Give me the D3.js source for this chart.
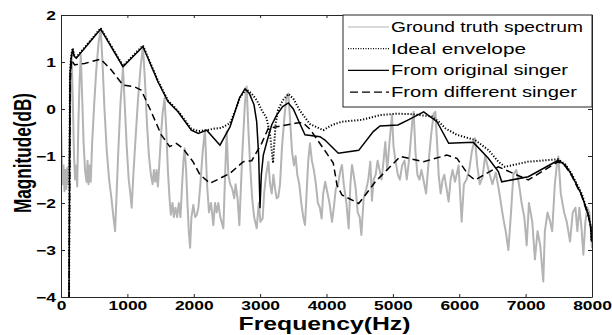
<!DOCTYPE html>
<html>
<head>
<meta charset="utf-8">
<script src="https://cdn.jsdelivr.net/npm/d3@7/dist/d3.min.js"></script>
<style>
  html, body { margin: 0; padding: 0; background: #fff; }
  svg { display: block; font-family: "Liberation Sans", Arial, Helvetica, sans-serif; }
</style>
</head>
<body>
<div id="chart"></div>
<script>
// axis ticks
const xTicks = [0, 1000, 2000, 3000, 4000, 5000, 6000, 7000, 8000];
const yTicks = [-4, -3, -2, -1, 0, 1, 2];

const legendLabels = ["Ground truth spectrum", "Ideal envelope", "From original singer", "From different singer"];

// [frequency (Hz), magnitude (dB)]
const truth = [
  [0,-0.2],[12,-1.1],[25,-1.6],[38,-1.2],[52,-1.75],[66,-1.3],[80,-1.7],[95,-1.25],[110,-1.6],[125,-0.9],
  [142,0.3],[160,1.2],[178,0.2],[196,-1.0],[212,-1.5],[228,-1.2],[244,-1.65],[262,-0.3],[280,0.6],[298,1.15],
  [318,0.3],[340,-0.7],[362,-1.3],[385,-1.55],[400,-1.1],[415,-1.6],[432,-1.2],[448,-1.55],[470,-0.7],[500,0.1],
  [530,0.8],[565,1.4],[598,1.7],[625,1.0],[655,0.0],[690,-0.9],[725,-1.5],[760,-1.9],[790,-2.3],[815,-2.6],
  [835,-1.9],[860,-1.0],[895,0.1],[934,0.87],[960,0.1],[990,-0.8],[1020,-1.5],[1045,-1.8],[1065,-2.1],[1090,-1.4],
  [1120,-0.7],[1160,0.2],[1200,0.9],[1235,1.33],[1265,0.6],[1295,-0.3],[1325,-1.0],[1355,-1.4],[1380,-1.6],[1400,-1.3],
  [1420,-1.55],[1440,-1.3],[1460,-1.65],[1480,-1.2],[1505,-0.6],[1530,-0.1],[1560,0.23],[1585,-0.4],[1610,-1.3],[1635,-1.9],
  [1655,-2.25],[1680,-2.0],[1700,-2.3],[1725,-2.1],[1750,-2.3],[1775,-2.0],[1800,-2.3],[1825,-1.6],[1845,-1.1],[1863,-0.84],
  [1885,-1.3],[1905,-2.0],[1925,-2.6],[1945,-2.95],[1965,-2.3],[1994,-2.04],[2020,-2.3],[2044,-2.26],[2070,-2.1],[2100,-1.6],
  [2135,-0.9],[2169,-0.45],[2200,-1.6],[2230,-2.2],[2260,-2.0],[2295,-2.47],[2320,-2.0],[2345,-2.2],[2370,-2.0],[2400,-2.3],
  [2446,-2.54],[2470,-1.5],[2496,-0.48],[2520,-1.4],[2550,-1.6],[2580,-1.7],[2610,-1.9],[2630,-1.6],[2660,-1.9],[2687,-2.47],
  [2730,-1.0],[2770,0.1],[2797,0.48],[2825,-0.5],[2850,-1.2],[2880,-1.9],[2910,-2.3],[2948,-2.54],[2980,-2.0],[3005,-2.4],
  [3038,-2.33],[3060,-1.8],[3090,-1.4],[3124,-1.12],[3150,-1.6],[3175,-1.8],[3200,-1.4],[3225,-1.7],[3250,-1.9],[3274,-1.87],
  [3300,-1.6],[3330,-0.8],[3370,-0.1],[3400,0.25],[3425,0.33],[3450,-0.2],[3480,-0.9],[3510,-1.2],[3535,-1.0],[3560,-1.4],
  [3590,-1.6],[3620,-2.0],[3650,-2.3],[3676,-2.47],[3700,-1.8],[3725,-1.1],[3751,-0.73],[3780,-1.1],[3810,-1.3],[3840,-1.6],
  [3870,-2.0],[3900,-2.1],[3927,-2.33],[3950,-1.8],[3980,-1.55],[4010,-1.75],[4045,-2.0],[4083,-2.4],[4110,-2.1],[4140,-1.7],
  [4175,-1.6],[4210,-1.3],[4233,-1.19],[4260,-1.6],[4300,-2.0],[4334,-2.54],[4360,-1.6],[4384,-1.19],[4410,-1.4],[4440,-1.7],
  [4470,-2.2],[4500,-2.3],[4525,-2.68],[4560,-1.9],[4600,-1.7],[4630,-1.5],[4660,-1.12],[4685,-1.95],[4710,-1.5],[4740,-1.4],
  [4770,-1.1],[4800,-1.3],[4830,-1.5],[4860,-1.1],[4886,-0.7],[4915,-1.3],[4950,-0.7],[4987,-0.13],[5010,-0.8],[5040,-1.1],
  [5075,-1.4],[5105,-1.5],[5140,-1.2],[5175,-1.1],[5210,-1.5],[5250,-1.0],[5290,-0.3],[5313,-0.06],[5340,-0.9],[5370,-1.4],
  [5400,-1.5],[5430,-1.3],[5460,-1.5],[5500,-1.8],[5540,-1.1],[5580,-0.5],[5615,-0.1],[5640,-0.06],[5665,-0.7],[5690,-1.4],
  [5720,-1.8],[5750,-1.5],[5775,-1.4],[5810,-1.7],[5840,-1.97],[5870,-1.5],[5900,-1.3],[5936,-1.55],[5960,-1.4],[5990,-1.2],
  [6036,-2.4],[6070,-1.6],[6110,-1.5],[6150,-1.3],[6190,-0.9],[6237,-0.62],[6270,-1.2],[6310,-1.6],[6350,-1.45],[6390,-1.0],
  [6425,-1.2],[6460,-1.4],[6500,-1.6],[6550,-1.35],[6600,-1.75],[6660,-2.3],[6700,-2.6],[6740,-3.0],[6780,-2.2],[6815,-1.4],
  [6860,-1.3],[6900,-1.6],[6940,-2.0],[6980,-2.3],[7016,-2.9],[7050,-2.0],[7100,-2.4],[7140,-3.2],[7180,-2.6],[7220,-2.9],
  [7266,-3.67],[7290,-2.6],[7330,-2.2],[7370,-2.4],[7400,-2.6],[7440,-1.6],[7470,-1.2],[7493,-1.01],[7530,-1.8],[7580,-2.2],
  [7620,-2.4],[7669,-2.82],[7710,-2.2],[7750,-2.1],[7780,-2.6],[7810,-2.1],[7840,-2.5],[7870,-3.1],[7900,-2.4],[7930,-2.1],
  [7960,-2.2],[7985,-2.6],[8000,-2.96]
];

const ideal = [
  [120,-4.3],[135,0.7],[150,1.08],[176,1.3],[200,1.14],[231,1.1],[598,1.72],[934,0.92],[1235,1.35],[1461,0.6],
  [1612,0.18],[1763,-0.04],[1963,-0.42],[2069,-0.47],[2200,-0.45],[2300,-0.42],[2420,-0.4],[2546,-0.3],[2621,-0.05],[2700,0.25],
  [2790,0.42],[2870,0.33],[2948,0.19],[3023,-0.02],[3099,-0.2],[3150,-0.55],[3180,-0.95],[3195,-1.15],[3210,-0.8],[3235,-0.3],
  [3270,-0.02],[3340,0.18],[3425,0.32],[3500,0.22],[3601,-0.04],[3751,-0.32],[3952,-0.45],[4083,-0.34],[4233,-0.27],[4535,-0.23],
  [4811,-0.13],[5050,-0.1],[5288,-0.11],[5590,-0.16],[5700,-0.28],[5790,-0.41],[5966,-0.55],[6237,-0.66],[6438,-0.87],[6589,-1.12],
  [6689,-1.23],[7040,-1.12],[7492,-1.07],[7600,-1.18],[7694,-1.38],[7845,-1.8],[7945,-2.24],[7980,-2.5],[7995,-2.8]
];

const original = [
  [120,-4.3],[135,0.7],[150,1.05],[176,1.27],[200,1.12],[231,1.08],[598,1.7],[934,0.9],[1235,1.33],[1461,0.58],
  [1612,0.16],[1763,-0.06],[1963,-0.45],[2069,-0.52],[2195,-0.45],[2395,-0.77],[2546,-0.38],[2621,-0.06],[2687,0.23],[2772,0.43],
  [2837,0.33],[2908,0.09],[2948,-0.27],[2978,-0.98],[2998,-2.11],[3018,-1.4],[3048,-0.98],[3109,-0.66],[3174,-0.34],[3249,-0.13],
  [3340,0.05],[3425,0.13],[3500,0.0],[3601,-0.32],[3676,-0.55],[3902,-0.59],[3977,-0.66],[4178,-0.94],[4485,-0.88],[4705,-0.48],
  [4806,-0.36],[5077,-0.34],[5233,-0.23],[5464,-0.06],[5665,-0.27],[5841,-0.73],[6212,-0.71],[6438,-1.05],[6589,-1.33],[6640,-1.55],
  [7040,-1.44],[7492,-1.09],[7600,-1.2],[7694,-1.4],[7845,-1.83],[7945,-2.26],[7980,-2.5],[7995,-2.82]
];

const different = [
  [120,-4.3],[140,0.6],[156,1.04],[206,0.94],[357,0.97],[598,1.06],[758,0.83],[934,0.51],[1110,0.47],[1210,0.4],
  [1360,-0.06],[1511,-0.55],[1637,-0.8],[1737,-0.73],[1838,-0.84],[1988,-1.12],[2094,-1.4],[2245,-1.58],[2546,-1.37],[2747,-1.12],
  [2873,-1.1],[3023,-0.73],[3124,-0.41],[3551,-0.3],[3646,-0.29],[3751,-0.43],[4002,-0.94],[4102,-1.15],[4158,-1.62],[4233,-1.83],
  [4485,-2.01],[4585,-1.83],[4735,-1.55],[4936,-1.26],[5112,-1.01],[5464,-1.12],[5815,-0.98],[5966,-1.05],[6137,-1.4],[6237,-1.51],
  [6589,-1.23],[7040,-1.51],[7492,-1.12],[7600,-1.22],[7694,-1.42],[7845,-1.85],[7945,-2.28],[7980,-2.5],[7995,-2.82]
];

const W = 612, H = 335;
const margin = { top: 15, right: 20, bottom: 38, left: 61 };
const width = W - margin.left - margin.right;
const height = H - margin.top - margin.bottom;

const svg = d3.select('#chart').append('svg')
  .attr('width', W)
  .attr('height', H);

const g = svg.append('g')
  .attr('transform', `translate(${margin.left},${margin.top})`);

const x = d3.scaleLinear().domain([0, 8000]).range([0, width]);
const y = d3.scaleLinear().domain([-4, 2]).range([height, 0]);

// text in the figure is rendered wide, stretch it along its run
function stretch(sel, k) {
  sel.each(function () {
    const n = this.getComputedTextLength();
    this.setAttribute('textLength', n * k);
    this.setAttribute('lengthAdjust', 'spacingAndGlyphs');
  });
}

g.append('clipPath').attr('id', 'plotClip')
  .append('rect').attr('width', width).attr('height', height);

const line = d3.line()
  .x(d => x(d[0]))
  .y(d => y(d[1]));

const plot = g.append('g').attr('clip-path', 'url(#plotClip)');

plot.append('path')
  .datum(truth)
  .attr('fill', 'none')
  .attr('stroke', '#b4b4b4')
  .attr('stroke-width', 2)
  .attr('stroke-linejoin', 'round')
  .attr('d', line);

plot.append('path')
  .datum(ideal)
  .attr('fill', 'none')
  .attr('stroke', '#000')
  .attr('stroke-width', 2)
  .attr('stroke-dasharray', '1.2,1.8')
  .attr('d', line);

plot.append('path')
  .datum(original)
  .attr('fill', 'none')
  .attr('stroke', '#000')
  .attr('stroke-width', 1.5)
  .attr('d', line);

plot.append('path')
  .datum(different)
  .attr('fill', 'none')
  .attr('stroke', '#000')
  .attr('stroke-width', 1.5)
  .attr('stroke-dasharray', '7,4')
  .attr('d', line);

// axes, ticks pointing inwards on all four sides
const axisColor = '#262626';
const intFmt = d3.format('d');

const xAxis = g.append('g')
  .attr('transform', `translate(0,${height})`)
  .call(d3.axisBottom(x).tickValues(xTicks).tickSize(-3).tickSizeOuter(0).tickPadding(4).tickFormat(intFmt));
g.append('g')
  .call(d3.axisTop(x).tickValues(xTicks).tickSize(-3).tickSizeOuter(0).tickFormat(() => ''));
const yAxis = g.append('g')
  .call(d3.axisLeft(y).tickValues(yTicks).tickSize(-4).tickSizeOuter(0).tickPadding(5).tickFormat(intFmt));
g.append('g')
  .attr('transform', `translate(${width},0)`)
  .call(d3.axisRight(y).tickValues(yTicks).tickSize(-4).tickSizeOuter(0).tickFormat(() => ''));

g.selectAll('.domain').attr('stroke', axisColor);
g.selectAll('.tick line').attr('stroke', axisColor);

[xAxis, yAxis].forEach(a => {
  a.selectAll('text')
    .attr('fill', '#000')
    .style('font-family', '"Liberation Sans", Arial, sans-serif')
    .style('font-size', '13px')
    .style('font-weight', 'bold');
  stretch(a.selectAll('text'), 1.34);
});

// axis titles
const xt = svg.append('text')
  .attr('x', margin.left + width / 2 - 2)
  .attr('y', 330)
  .attr('text-anchor', 'middle')
  .style('font-size', '18px')
  .style('font-weight', 'bold')
  .text('Frequency(Hz)');
xt.attr('textLength', 172).attr('lengthAdjust', 'spacingAndGlyphs');

const yt = svg.append('text')
  .attr('transform', `translate(31,${margin.top + height / 2 - 3}) rotate(-90)`)
  .attr('text-anchor', 'middle')
  .style('font-size', '24px')
  .style('font-weight', 'bold')
  .text('Magnitude(dB)');
yt.attr('textLength', 120).attr('lengthAdjust', 'spacingAndGlyphs');

// legend
const lgX = 343, lgY = 15, lgW = W - margin.right - lgX, lgH = 92;
const legend = svg.append('g');
legend.append('rect')
  .attr('x', lgX).attr('y', lgY)
  .attr('width', lgW).attr('height', lgH)
  .attr('fill', '#fff')
  .attr('stroke', axisColor)
  .attr('stroke-width', 1);

const legendStyles = [
  { stroke: '#b4b4b4', width: 1.2, dash: null },
  { stroke: '#000', width: 1.2, dash: '1,1.5' },
  { stroke: '#000', width: 1.3, dash: null },
  { stroke: '#000', width: 1.3, dash: '8,4' }
];
const legendWidths = [192, 135, 177, 186];

legendLabels.forEach((label, i) => {
  const cy = 27 + i * 21.7;
  const st = legendStyles[i];
  legend.append('line')
    .attr('x1', i === 3 ? 350 : 348).attr('x2', 389)
    .attr('y1', cy).attr('y2', cy)
    .attr('stroke', st.stroke)
    .attr('stroke-width', st.width)
    .attr('stroke-dasharray', st.dash);
  legend.append('text')
    .attr('x', 391)
    .attr('y', cy + 5)
    .style('font-size', '14px')
    .attr('textLength', legendWidths[i])
    .attr('lengthAdjust', 'spacingAndGlyphs')
    .text(label);
});
</script>
</body>
</html>
